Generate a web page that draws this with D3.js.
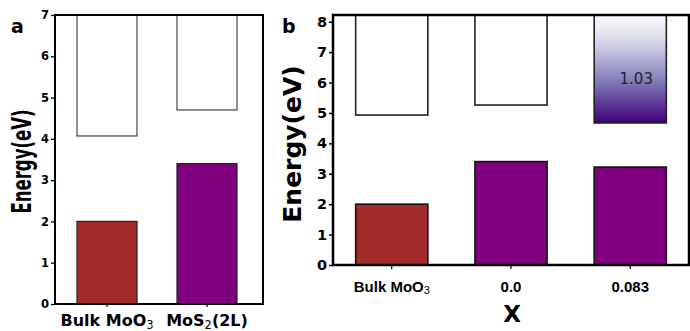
<!DOCTYPE html>
<meta charset="utf-8">
<script src="https://d3js.org/d3.v7.min.js"></script>
<style>
  body { margin: 0; background: #fff; }
  text { font-family: "DejaVu Sans", sans-serif; }
</style>
<div id="my_dataviz"></div>
<script>

// ---- data ----
// panel a
var catsA = ["Bulk MoO3", "MoS2(2L)"];
var vbA = [2.0, 3.4];          // filled bars (valence)
var cbA = [4.07, 4.70];        // bottom of the empty bars (conduction)
var colorsA = ["#a52a2a", "#800080"];
var ticksA = [0, 1, 2, 3, 4, 5, 6, 7];

// panel b
var catsB = ["Bulk MoO3", "0.0", "0.083"];
var vbB = [2.0, 3.4, 3.22];
var cbB = [4.93, 5.26, 4.67];
var colorsB = ["#a52a2a", "#800080", "#800080"];
var gradB = [false, false, true];   // which conduction bar is shaded
var ticksB = [0, 1, 2, 3, 4, 5, 6, 7, 8];
var noteB = {cat: "0.083", value: 6.1, text: "1.03"};

var width = 690, height = 331;

var svg = d3.select("#my_dataviz")
  .append("svg")
    .attr("width", width)
    .attr("height", height);

var defs = svg.append("defs");
var grad = defs.append("linearGradient")
    .attr("id", "gapGrad")
    .attr("x1", 0).attr("y1", 0).attr("x2", 0).attr("y2", 1);
d3.range(0, 1.01, 0.1).forEach(function(t) {
  grad.append("stop")
    .attr("offset", t)
    .attr("stop-color", d3.interpolatePurples(0.02 + t * 0.98));
});

// write a label with the digit after Mo / MoS as a subscript
function subLabel(sel, label, size) {
  sel.text(null);
  var m = label.match(/^(.*?[OS])(\d)(.*)$/);
  if (!m) { sel.text(label); return; }
  sel.append("tspan").text(m[1]);
  sel.append("tspan")
    .attr("dy", size * 0.16)
    .style("font-size", (size * 0.72) + "px")
    .style("font-weight", "normal")
    .text(m[2]);
  if (m[3]) sel.append("tspan").attr("dy", -size * 0.16).text(m[3]);
}

// ---------------- panel a ----------------
var ax = {left: 55, right: 263, top: 15, bottom: 304};
var xA = d3.scaleBand()
    .domain(catsA)
    .range([53, 261])
    .paddingInner(0.4)
    .paddingOuter(0.24);
var yA = d3.scaleLinear()
    .domain([0, 7])
    .range([ax.bottom, ax.top]);

var gA = svg.append("g");

// empty conduction bars up to the frame top
gA.selectAll(".cbA")
  .data(catsA)
  .enter().append("rect")
    .attr("x", function(d) { return xA(d); })
    .attr("y", yA(7))
    .attr("width", xA.bandwidth())
    .attr("height", function(d, i) { return yA(cbA[i]) - yA(7); })
    .attr("fill", "#fff")
    .attr("stroke", "#444")
    .attr("stroke-width", 1.2);

gA.selectAll(".vbA")
  .data(catsA)
  .enter().append("rect")
    .attr("x", function(d) { return xA(d); })
    .attr("y", function(d, i) { return yA(vbA[i]); })
    .attr("width", xA.bandwidth())
    .attr("height", function(d, i) { return yA(0) - yA(vbA[i]); })
    .attr("fill", function(d, i) { return colorsA[i]; })
    .attr("stroke", "#222")
    .attr("stroke-width", 1.2);

var yAxA = gA.append("g")
    .attr("transform", "translate(" + ax.left + ",0)")
    .call(d3.axisLeft(yA).tickValues(ticksA).tickFormat(d3.format("d"))
      .tickSize(4).tickPadding(2).tickSizeOuter(0));
yAxA.select(".domain").remove();
yAxA.selectAll("line").attr("stroke-width", 1.3);
yAxA.selectAll("text")
    .style("font-size", "11.5px")
    .style("font-weight", "bold")
    .attr("fill", "#000");

var xAxA = gA.append("g")
    .attr("transform", "translate(0," + ax.bottom + ")")
    .call(d3.axisBottom(xA).tickSize(3).tickPadding(8).tickSizeOuter(0));
xAxA.select(".domain").remove();
xAxA.selectAll("line").attr("stroke-width", 1.2);
xAxA.selectAll("text")
    .style("font-size", "16px")
    .style("font-weight", "bold")
    .attr("fill", "#000")
    .each(function(d) { subLabel(d3.select(this), d, 16); });

gA.append("rect")
    .attr("x", ax.left).attr("y", ax.top)
    .attr("width", ax.right - ax.left).attr("height", ax.bottom - ax.top)
    .attr("fill", "none").attr("stroke", "#000").attr("stroke-width", 2);

gA.append("text")
    .attr("transform", "translate(31," + ((ax.top + ax.bottom) / 2 + 2) + ")rotate(-90)")
    .attr("text-anchor", "middle")
    .attr("textLength", 104)
    .attr("lengthAdjust", "spacingAndGlyphs")
    .style("font-size", "26px")
    .style("font-weight", "bold")
    .text("Energy(eV)");

gA.append("text")
    .attr("x", 11).attr("y", 33)
    .style("font-size", "19px")
    .style("font-weight", "bold")
    .text("a");

// ---------------- panel b ----------------
var bx = {left: 333, right: 689, top: 15, bottom: 265};
var xB = d3.scaleBand()
    .domain(catsB)
    .range([bx.left, bx.right])
    .paddingInner(0.395)
    .paddingOuter(0.19);
var yB = d3.scaleLinear()
    .domain([0, 8.22])
    .range([bx.bottom, bx.top]);

var gB = svg.append("g");

gB.selectAll(".cbB")
  .data(catsB)
  .enter().append("rect")
    .attr("x", function(d) { return xB(d); })
    .attr("y", yB(8.22))
    .attr("width", xB.bandwidth())
    .attr("height", function(d, i) { return yB(cbB[i]) - yB(8.22); })
    .attr("fill", function(d, i) { return gradB[i] ? "url(#gapGrad)" : "#fff"; })
    .attr("stroke", "#222")
    .attr("stroke-width", 1.6);

gB.selectAll(".vbB")
  .data(catsB)
  .enter().append("rect")
    .attr("x", function(d) { return xB(d); })
    .attr("y", function(d, i) { return yB(vbB[i]); })
    .attr("width", xB.bandwidth())
    .attr("height", function(d, i) { return yB(0) - yB(vbB[i]); })
    .attr("fill", function(d, i) { return colorsB[i]; })
    .attr("stroke", "#111")
    .attr("stroke-width", 1.6);

gB.append("text")
    .attr("x", xB(noteB.cat) + xB.bandwidth() / 2 + 6)
    .attr("y", yB(noteB.value) + 5)
    .attr("text-anchor", "middle")
    .attr("fill", "#222")
    .style("font-size", "15px")
    .text(noteB.text);

var yAxB = gB.append("g")
    .attr("transform", "translate(" + bx.left + ",0)")
    .call(d3.axisLeft(yB).tickValues(ticksB).tickSize(4).tickPadding(2).tickSizeOuter(0));
yAxB.select(".domain").remove();
yAxB.selectAll("line").attr("stroke-width", 1.5);
yAxB.selectAll("text")
    .style("font-size", "14.5px")
    .style("font-weight", "bold")
    .attr("fill", "#000");

var xAxB = gB.append("g")
    .attr("transform", "translate(0," + bx.bottom + ")")
    .call(d3.axisBottom(xB).tickSize(4).tickPadding(12).tickSizeOuter(0));
xAxB.select(".domain").remove();
xAxB.selectAll("line").attr("stroke-width", 1.2);
xAxB.selectAll("text")
    .style("font-family", "'Liberation Sans', Arial, sans-serif")
    .style("font-size", "15px")
    .style("font-weight", "bold")
    .attr("fill", "#000")
    .each(function(d) { subLabel(d3.select(this), d, 15); });

gB.append("rect")
    .attr("x", bx.left).attr("y", bx.top)
    .attr("width", bx.right - bx.left).attr("height", bx.bottom - bx.top)
    .attr("fill", "none").attr("stroke", "#000").attr("stroke-width", 2.5);

gB.append("text")
    .attr("transform", "translate(301," + ((bx.top + bx.bottom) / 2 + 4) + ")rotate(-90)")
    .attr("text-anchor", "middle")
    .style("font-size", "25px")
    .style("font-weight", "bold")
    .text("Energy(eV)");

gB.append("text")
    .attr("x", (bx.left + bx.right) / 2 + 1)
    .attr("y", 322)
    .attr("text-anchor", "middle")
    .style("font-size", "23px")
    .style("font-weight", "bold")
    .text("X");

gB.append("text")
    .attr("x", 282).attr("y", 33)
    .style("font-size", "19px")
    .style("font-weight", "bold")
    .text("b");

</script>
